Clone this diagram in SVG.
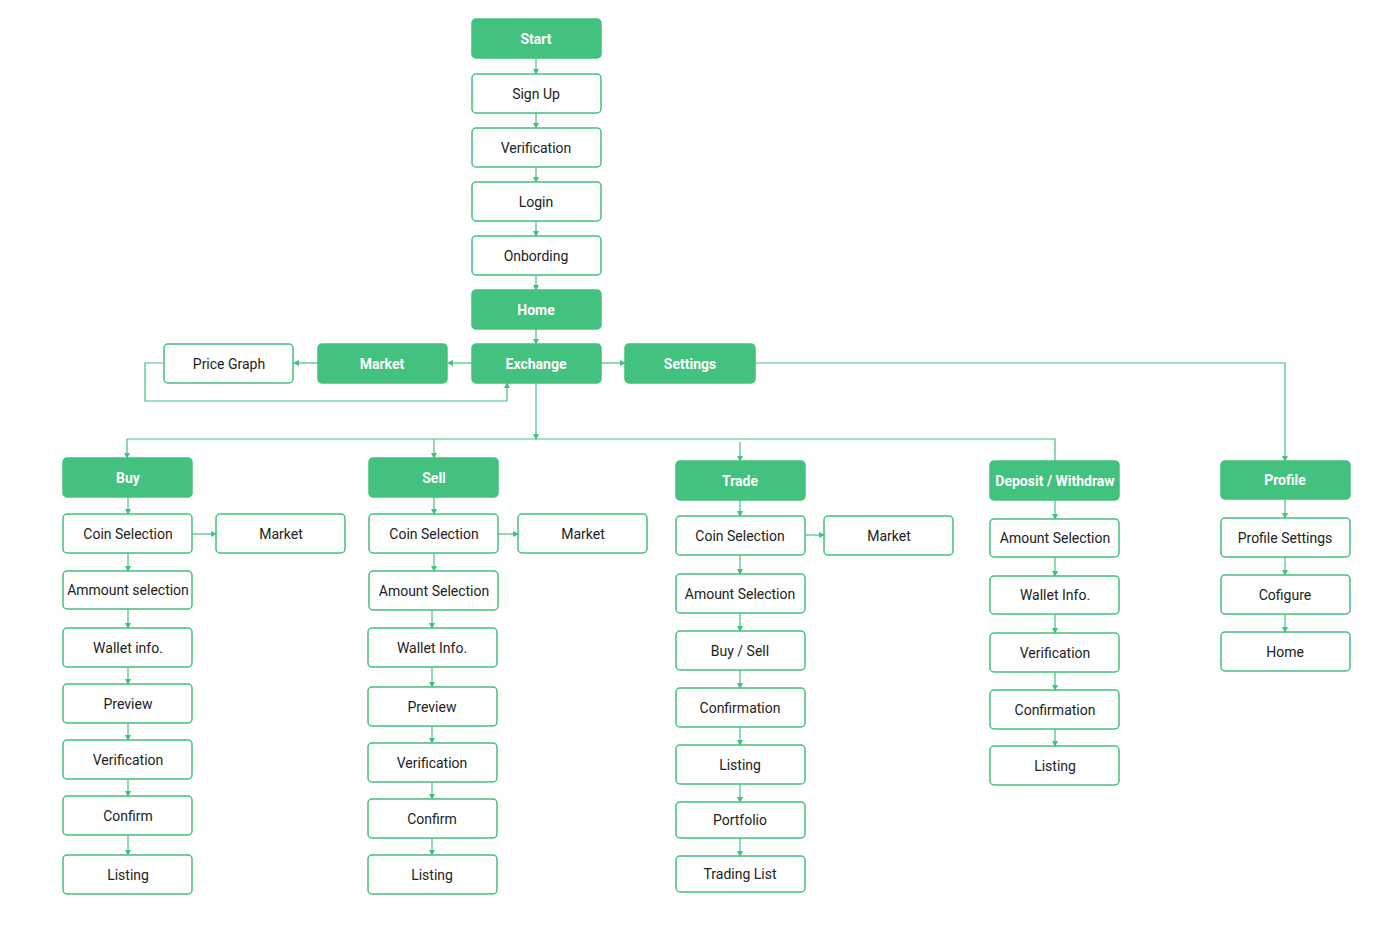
<svg xmlns="http://www.w3.org/2000/svg" width="1400" height="940" viewBox="0 0 1400 940">
<style>
.g rect{fill:#43c17f;stroke:#43c17f;stroke-width:1.5}
.w rect{fill:#fff;stroke:#43c17f;stroke-width:1.5}
text{font-family:Roboto,"Liberation Sans",sans-serif;font-size:14px;text-anchor:middle;dominant-baseline:central}
.g text{fill:#fff;font-weight:bold}
.w text{fill:#222}
#connectors path{fill:none;stroke:#43c17f;stroke-width:1.2}
</style>
<defs><marker id="a" markerWidth="6" markerHeight="6" refX="5" refY="3" orient="auto" markerUnits="userSpaceOnUse"><path d="M0,0 L6,3 L0,6 z" fill="#43c17f"/></marker></defs>
<rect width="1400" height="940" fill="#fff"/>
<g id="connectors">
<path d="M536,58V74" marker-end="url(#a)"/><path d="M536,113V128" marker-end="url(#a)"/><path d="M536,167V182" marker-end="url(#a)"/><path d="M536,221V236" marker-end="url(#a)"/><path d="M536,275V290" marker-end="url(#a)"/><path d="M536,329V344" marker-end="url(#a)"/>
<path d="M472,363H448" marker-end="url(#a)"/><path d="M318,363H294" marker-end="url(#a)"/><path d="M601,363H625" marker-end="url(#a)"/>
<path d="M164,363H145V401H507V383" marker-end="url(#a)"/>
<path d="M755,363H1285V461" marker-end="url(#a)"/>
<path d="M536,383V439" marker-end="url(#a)"/>
<path d="M127,439H1055V461"/>
<path d="M127,439V458" marker-end="url(#a)"/><path d="M434,439V458" marker-end="url(#a)"/><path d="M740,442V461" marker-end="url(#a)"/>
<path d="M128,497V514" marker-end="url(#a)"/><path d="M128,553V571" marker-end="url(#a)"/><path d="M128,609V628" marker-end="url(#a)"/><path d="M128,667V684" marker-end="url(#a)"/><path d="M128,723V740" marker-end="url(#a)"/><path d="M128,779V796" marker-end="url(#a)"/><path d="M128,835V855" marker-end="url(#a)"/>
<path d="M192,534H216" marker-end="url(#a)"/>
<path d="M434,497V514" marker-end="url(#a)"/><path d="M434,553V571" marker-end="url(#a)"/><path d="M432,610V628" marker-end="url(#a)"/><path d="M432,667V687" marker-end="url(#a)"/><path d="M432,726V743" marker-end="url(#a)"/><path d="M432,782V799" marker-end="url(#a)"/><path d="M432,838V855" marker-end="url(#a)"/>
<path d="M498,534H518" marker-end="url(#a)"/>
<path d="M740,500V516" marker-end="url(#a)"/><path d="M740,555V574" marker-end="url(#a)"/><path d="M740,613V631" marker-end="url(#a)"/><path d="M740,670V688" marker-end="url(#a)"/><path d="M740,727V745" marker-end="url(#a)"/><path d="M740,784V802" marker-end="url(#a)"/><path d="M740,838V856" marker-end="url(#a)"/>
<path d="M805,535H824" marker-end="url(#a)"/>
<path d="M1055,500V519" marker-end="url(#a)"/><path d="M1055,557V576" marker-end="url(#a)"/><path d="M1055,614V633" marker-end="url(#a)"/><path d="M1055,672V690" marker-end="url(#a)"/><path d="M1055,729V746" marker-end="url(#a)"/>
<path d="M1285,499V518" marker-end="url(#a)"/><path d="M1285,557V575" marker-end="url(#a)"/><path d="M1285,614V632" marker-end="url(#a)"/>
</g>
<g id="start" class="g"><rect x="472" y="19" width="129" height="39" rx="4"/><text x="536" y="38.5">Start</text></g>
<g id="signup" class="w"><rect x="472" y="74" width="129" height="39" rx="4"/><text x="536" y="93.5">Sign Up</text></g>
<g id="verification" class="w"><rect x="472" y="128" width="129" height="39" rx="4"/><text x="536" y="147.5">Verification</text></g>
<g id="login" class="w"><rect x="472" y="182" width="129" height="39" rx="4"/><text x="536" y="201.5">Login</text></g>
<g id="onbording" class="w"><rect x="472" y="236" width="129" height="39" rx="4"/><text x="536" y="255.5">Onbording</text></g>
<g id="home" class="g"><rect x="472" y="290" width="129" height="39" rx="4"/><text x="536" y="309.5">Home</text></g>
<g id="exchange" class="g"><rect x="472" y="344" width="129" height="39" rx="4"/><text x="536" y="363.5">Exchange</text></g>
<g id="market" class="g"><rect x="318" y="344" width="129" height="39" rx="4"/><text x="382" y="363.5">Market</text></g>
<g id="pricegraph" class="w"><rect x="164" y="344" width="129" height="39" rx="4"/><text x="229" y="363.5">Price Graph</text></g>
<g id="settings" class="g"><rect x="625" y="344" width="130" height="39" rx="4"/><text x="690" y="363.5">Settings</text></g>

<g id="buy" class="g"><rect x="63" y="458" width="129" height="39" rx="4"/><text x="128" y="477.5">Buy</text></g>
<g id="buy-coin" class="w"><rect x="63" y="514" width="129" height="39" rx="4"/><text x="128" y="533.5">Coin Selection</text></g>
<g id="buy-market" class="w"><rect x="216" y="514" width="129" height="39" rx="4"/><text x="281" y="533.5">Market</text></g>
<g id="buy-amount" class="w"><rect x="63" y="571" width="129" height="38" rx="4"/><text x="128" y="590">Ammount selection</text></g>
<g id="buy-wallet" class="w"><rect x="63" y="628" width="129" height="39" rx="4"/><text x="128" y="647.5">Wallet info.</text></g>
<g id="buy-preview" class="w"><rect x="63" y="684" width="129" height="39" rx="4"/><text x="128" y="703.5">Preview</text></g>
<g id="buy-verification" class="w"><rect x="63" y="740" width="129" height="39" rx="4"/><text x="128" y="759.5">Verification</text></g>
<g id="buy-confirm" class="w"><rect x="63" y="796" width="129" height="39" rx="4"/><text x="128" y="815.5">Confirm</text></g>
<g id="buy-listing" class="w"><rect x="63" y="855" width="129" height="39" rx="4"/><text x="128" y="874.5">Listing</text></g>

<g id="sell" class="g"><rect x="369" y="458" width="129" height="39" rx="4"/><text x="434" y="477.5">Sell</text></g>
<g id="sell-coin" class="w"><rect x="369" y="514" width="129" height="39" rx="4"/><text x="434" y="533.5">Coin Selection</text></g>
<g id="sell-market" class="w"><rect x="518" y="514" width="129" height="39" rx="4"/><text x="583" y="533.5">Market</text></g>
<g id="sell-amount" class="w"><rect x="369" y="571" width="129" height="39" rx="4"/><text x="434" y="590.5">Amount Selection</text></g>
<g id="sell-wallet" class="w"><rect x="368" y="628" width="129" height="39" rx="4"/><text x="432" y="647.5">Wallet Info.</text></g>
<g id="sell-preview" class="w"><rect x="368" y="687" width="129" height="39" rx="4"/><text x="432" y="706.5">Preview</text></g>
<g id="sell-verification" class="w"><rect x="368" y="743" width="129" height="39" rx="4"/><text x="432" y="762.5">Verification</text></g>
<g id="sell-confirm" class="w"><rect x="368" y="799" width="129" height="39" rx="4"/><text x="432" y="818.5">Confirm</text></g>
<g id="sell-listing" class="w"><rect x="368" y="855" width="129" height="39" rx="4"/><text x="432" y="874.5">Listing</text></g>

<g id="trade" class="g"><rect x="676" y="461" width="129" height="39" rx="4"/><text x="740" y="480.5">Trade</text></g>
<g id="trade-coin" class="w"><rect x="676" y="516" width="129" height="39" rx="4"/><text x="740" y="535.5">Coin Selection</text></g>
<g id="trade-market" class="w"><rect x="824" y="516" width="129" height="39" rx="4"/><text x="889" y="535.5">Market</text></g>
<g id="trade-amount" class="w"><rect x="676" y="574" width="129" height="39" rx="4"/><text x="740" y="593.5">Amount Selection</text></g>
<g id="trade-buysell" class="w"><rect x="676" y="631" width="129" height="39" rx="4"/><text x="740" y="650.5">Buy / Sell</text></g>
<g id="trade-confirmation" class="w"><rect x="676" y="688" width="129" height="39" rx="4"/><text x="740" y="707.5">Confirmation</text></g>
<g id="trade-listing" class="w"><rect x="676" y="745" width="129" height="39" rx="4"/><text x="740" y="764.5">Listing</text></g>
<g id="trade-portfolio" class="w"><rect x="676" y="802" width="129" height="36" rx="4"/><text x="740" y="820">Portfolio</text></g>
<g id="trade-tradinglist" class="w"><rect x="676" y="856" width="129" height="36" rx="4"/><text x="740" y="874">Trading List</text></g>

<g id="deposit" class="g"><rect x="990" y="461" width="129" height="39" rx="4"/><text x="1055" y="480.5">Deposit / Withdraw</text></g>
<g id="dep-amount" class="w"><rect x="990" y="519" width="129" height="38" rx="4"/><text x="1055" y="538">Amount Selection</text></g>
<g id="dep-wallet" class="w"><rect x="990" y="576" width="129" height="38" rx="4"/><text x="1055" y="595">Wallet Info.</text></g>
<g id="dep-verification" class="w"><rect x="990" y="633" width="129" height="39" rx="4"/><text x="1055" y="652.5">Verification</text></g>
<g id="dep-confirmation" class="w"><rect x="990" y="690" width="129" height="39" rx="4"/><text x="1055" y="709.5">Confirmation</text></g>
<g id="dep-listing" class="w"><rect x="990" y="746" width="129" height="39" rx="4"/><text x="1055" y="766">Listing</text></g>

<g id="profile" class="g"><rect x="1221" y="461" width="129" height="38" rx="4"/><text x="1285" y="480">Profile</text></g>
<g id="profile-settings" class="w"><rect x="1221" y="518" width="129" height="39" rx="4"/><text x="1285" y="537.5">Profile Settings</text></g>
<g id="profile-configure" class="w"><rect x="1221" y="575" width="129" height="39" rx="4"/><text x="1285" y="594.5">Cofigure</text></g>
<g id="profile-home" class="w"><rect x="1221" y="632" width="129" height="39" rx="4"/><text x="1285" y="651.5">Home</text></g>
</svg>
